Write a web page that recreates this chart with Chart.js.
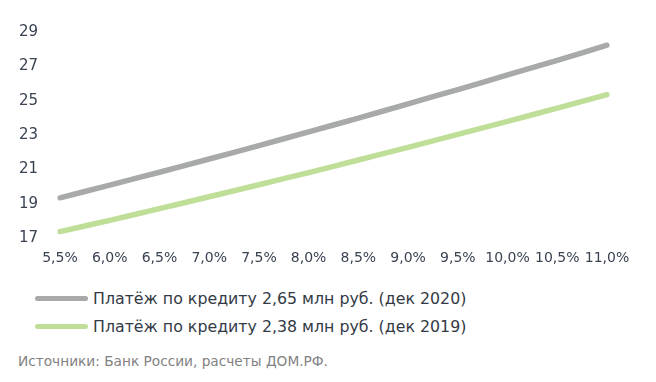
<!DOCTYPE html>
<html>
<head>
<meta charset="utf-8">
<script src="https://cdn.jsdelivr.net/npm/chart.js@4/dist/chart.umd.min.js"></script>
<style>
  html, body { margin: 0; padding: 0; background: #ffffff; }
  body { width: 656px; height: 382px; position: relative; overflow: hidden; font-family: "DejaVu Sans", sans-serif; }
  #wrap { position: absolute; left: 0; top: 0; width: 656px; height: 285px; }
  .leg { position: absolute; left: 35px; height: 20px; display: flex; align-items: center; font-size: 15.8px; color: #333a45; white-space: nowrap; }
  .leg .sw { width: 53px; height: 5px; border-radius: 3px; margin-right: 5px; }
  #src { position: absolute; left: 18px; top: 353px; font-size: 13.7px; color: #828282; white-space: nowrap; }
</style>
</head>
<body>
<div id="wrap"><canvas id="c"></canvas></div>
<div id="legend"></div>
<div id="src">Источники: Банк России, расчеты ДОМ.РФ.</div>
<script>
const rates = ["5,5%","6,0%","6,5%","7,0%","7,5%","8,0%","8,5%","9,0%","9,5%","10,0%","10,5%","11,0%"];
const payment2020 = [19.35, 20.09, 20.84, 21.61, 22.39, 23.19, 23.99, 24.82, 25.65, 26.50, 27.35, 28.23];
const payment2019 = [17.38, 18.04, 18.72, 19.41, 20.11, 20.82, 21.55, 22.29, 23.04, 23.80, 24.57, 25.35];
const label2020 = "Платёж по кредиту 2,65 млн руб. (дек 2020)";
const label2019 = "Платёж по кредиту 2,38 млн руб. (дек 2019)";
const yTicks = [17, 19, 21, 23, 25, 27, 29];

const colGray = "#a7aaa9";
const colGreen = "#bfde98";

const datasets = [
  { label: label2020, data: payment2020, borderColor: colGray, backgroundColor: colGray },
  { label: label2019, data: payment2019, borderColor: colGreen, backgroundColor: colGreen }
];

new Chart(document.getElementById("c"), {
  type: "line",
  data: {
    labels: rates,
    datasets: datasets.map(d => Object.assign({}, d, {
      borderWidth: 5.5, pointRadius: 0, pointHoverRadius: 0, tension: 0.3,
      borderCapStyle: "round", borderJoinStyle: "round", fill: false
    }))
  },
  options: {
    responsive: true,
    maintainAspectRatio: false,
    animation: false,
    layout: { padding: { top: 32, right: 49, bottom: 6, left: 0 } },
    plugins: { legend: { display: false }, tooltip: { enabled: false } },
    scales: {
      x: {
        offset: false,
        grid: { display: false, drawTicks: false },
        border: { display: false },
        ticks: { color: "#3a4352", font: { family: "DejaVu Sans", size: 14 }, padding: 12, maxRotation: 0, autoSkip: false }
      },
      y: {
        min: yTicks[0], max: yTicks[yTicks.length - 1],
        afterBuildTicks: s => { s.ticks = yTicks.map(v => ({ value: v })); },
        afterFit: s => { s.width = 60; },
        grid: { display: false, drawTicks: false },
        border: { display: false },
        ticks: { color: "#3a4352", font: { family: "DejaVu Sans", size: 15 }, padding: 22 }
      }
    }
  }
});

const legend = document.getElementById("legend");
datasets.forEach((d, i) => {
  const row = document.createElement("div");
  row.className = "leg";
  row.style.top = (288 + i * 28) + "px";
  const sw = document.createElement("div");
  sw.className = "sw";
  sw.style.background = d.borderColor;
  const tx = document.createElement("span");
  tx.textContent = d.label;
  row.appendChild(sw); row.appendChild(tx);
  legend.appendChild(row);
});
</script>
</body>
</html>
